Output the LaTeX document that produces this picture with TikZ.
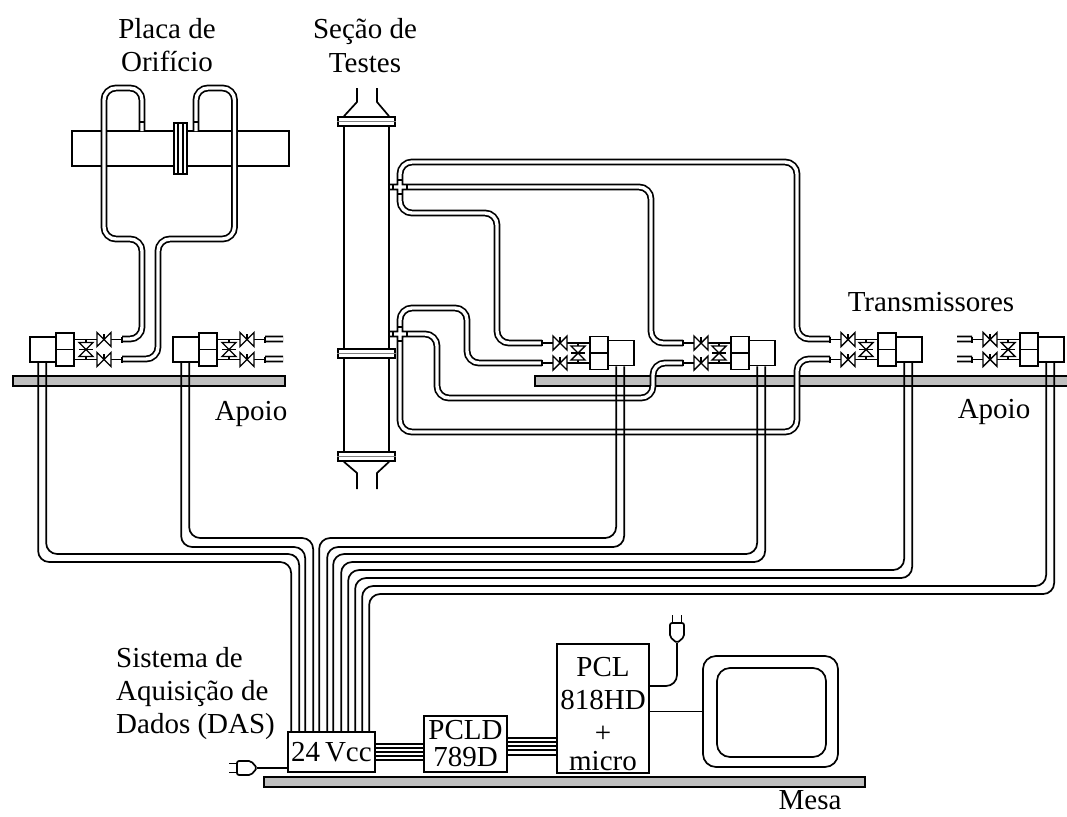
\documentclass[tikz,border=0pt]{standalone}
\usepackage{fontspec}
\setmainfont{Liberation Serif}
\usetikzlibrary{positioning}
\definecolor{bargray}{gray}{0.75}
\tikzset{
  every node/.style={font=\fontsize{29}{33}\selectfont,inner sep=0pt},
  tube/.style={line width=1.7pt},
  bar/.style={draw,line width=1.9pt,fill=bargray,inner sep=0pt},
  wirebox/.style={draw,tube,align=center,inner sep=0pt},
  flange/.style={draw,tube,fill=white,minimum width=57pt,minimum height=9pt},
  thinline/.style={line width=1.4pt},
  valveh/.pic={
    \draw[thinline,fill=white] (-7,-7) -- (-7,7) -- (7,-7) -- (7,7) -- cycle;
    \draw[thinline] (0,0) -- (0,-6);
  },
  valvev/.pic={
    \draw[thinline,fill=white] (-7,-7) -- (7,-7) -- (-7,7) -- (7,7) -- cycle;
    \draw[thinline] (-7,0) -- (7,0);
  },
  transmissor/.pic={
    \draw[tube] (0,-10) -- (-48,-10) (0,10) -- (-48,10);
    \draw[tube] (-48,-13) -- (-48,-7) (-48,7) -- (-48,13);
    \draw[thinline] (-12,-10) -- (-12,10);
    \pic at (-30,-10) {valveh};
    \pic at (-30,10) {valveh};
    \pic at (-12,0) {valvev};
    \node[draw,tube,minimum width=18pt,minimum height=16.5pt] (-up) at (9,-8.25) {};
    \node[draw,tube,minimum width=18pt,minimum height=16.5pt] (-lo) at (9,8.25) {};
    \node[draw,tube,minimum width=26pt,minimum height=25pt] (-big) at (31,0) {};
  },
  plug/.pic={
    \coordinate (-tip) at (0,0);
    \draw[tube,fill=white,rounded corners=2pt] (0,0) -- (-6,-7) -- (-20,-7) -- (-20,7) -- (-6,7) -- cycle;
    \draw[tube] (-20,-4.5) -- (-28,-4.5) (-20,4.5) -- (-28,4.5);
  },
  fitting/.pic={
    \draw[tube] (-7,-3) -- (-7,3) (7,-3) -- (7,3) (-3,-7) -- (3,-7) (-3,7) -- (3,7);
  }
}
\begin{document}
\begin{tikzpicture}[x=1pt,y=-1pt]
\useasboundingbox (0,0) rectangle (1067,816);
\node[bar,minimum width=272pt,minimum height=10pt] (apoioa) at (149,381) {};
\node[bar,minimum width=540pt,minimum height=10pt] (apoiob) at (805,381) {};
\node[bar,minimum width=601pt,minimum height=10pt] (mesa) at (564.5,782) {};
\node[draw,tube,minimum width=217pt,minimum height=35pt] (duto) at (180.5,148.5) {};

\foreach \w/\c in {6.8/black,3.4/white}
  \draw[line width=\w pt,color=\c,rounded corners=12pt]
    (142,131) -- (142,88) -- (104,88) -- (104,239) -- (142,239) -- (142,339) -- (122,339)
    (196,131) -- (196,88) -- (234.5,88) -- (234.5,239) -- (158,239) -- (158,359) -- (122,359)
    (265,339) -- (283,339) (265,359) -- (283,359)
    (400,187) -- (400,162) -- (797,162) -- (797,339) -- (830,339)
    (389,187) -- (651,187) -- (651,343) -- (683,343)
    (400,187) -- (400,213) -- (497,213) -- (497,343) -- (542,343)
    (400,334) -- (400,308) -- (467,308) -- (467,363) -- (542,363)
    (389,334) -- (437,334) -- (437,398) -- (653,398) -- (653,363) -- (683,363)
    (400,334) -- (400,432) -- (797,432) -- (797,359) -- (830,359)
    (957,339) -- (972,339) (957,359) -- (972,359);
\draw[tube] (139,122) -- (145,122) (193,122) -- (199,122);
\pic at (400,187) {fitting};
\pic at (400,334) {fitting};

\node[draw,tube,fill=white,minimum width=13pt,minimum height=51pt] (placa) at (180.5,148.5) {};
\draw[thinline] ([xshift=-2.5pt]placa.north) -- ([xshift=-2.5pt]placa.south)
  ([xshift=2.5pt]placa.north) -- ([xshift=2.5pt]placa.south);

\node[flange] (flt) at (366.5,121.5) {};
\node[flange] (flm) at (366.5,353.5) {};
\node[flange] (flb) at (366.5,456.5) {};
\draw[tube] ([xshift=-22.5pt]flt.south) -- ([xshift=-22.5pt]flm.north)
  ([xshift=-22.5pt]flm.south) -- ([xshift=-22.5pt]flb.north)
  ([xshift=22.5pt]flt.south) -- ([xshift=22.5pt]flm.north)
  ([xshift=22.5pt]flm.south) -- ([xshift=22.5pt]flb.north);
\draw[tube] ([xshift=-22.5pt]flt.north) -- (357,102) -- (357,88)
  ([xshift=22.5pt]flt.north) -- (377,102) -- (377,88)
  ([xshift=-22.5pt]flb.south) -- (357,473) -- (357,489)
  ([xshift=22.5pt]flb.south) -- (377,473) -- (377,489);
\foreach \fl in {flt,flm,flb}
  \draw[line width=1.6pt,color=gray] (\fl.west) -- (\fl.east);

\pic[xscale=-1] (txa) at (74,349.5) {transmissor};
\pic[xscale=-1] (txb) at (217,349.5) {transmissor};
\pic (txc) at (590,353) {transmissor};
\pic (txd) at (731,353) {transmissor};
\pic (txe) at (878,349.5) {transmissor};
\pic (txf) at (1020,349.5) {transmissor};

\node[wirebox,minimum width=87pt,minimum height=40pt] (das) at (331.5,752) {24\,Vcc};
\node[wirebox,minimum width=83pt,minimum height=56pt] (pcld) at (465.5,744) {PCLD\\[-6pt]789D};
\node[wirebox,minimum width=92pt,minimum height=129pt] (pcl) at (603,708.5) {\rule{0pt}{30pt}PCL\\818HD\\+\\[-5pt]micro};
\node[draw,tube,rounded corners=13pt,minimum width=135pt,minimum height=111pt] (mon) at (770.5,711.5) {};
\node[draw,tube,rounded corners=13pt,minimum width=109pt,minimum height=89pt] (tela) at (771.5,712.5) {};

\foreach \tx/\off/\row/\pos in {txa/9/562/4,txa/17/554/12,txb/9/547/18,txb/17/538/26,
    txc/9/538/32,txc/17/547/40,txd/9/554/46,txd/17/562/54,
    txe/9/570/61,txe/17/578/68,txf/9/586/75,txf/17/594/82}
  \draw[tube,rounded corners=11pt] ([xshift=\off pt]\tx-big.south west)
    -- ([xshift=\off pt]\tx-big.south west |- 0,\row)
    -- ([xshift=\pos pt]das.north west |- 0,\row)
    -- ([xshift=\pos pt]das.north west);

\foreach \row in {744,748,752,756,760}
  \draw[tube] (das.east |- 0,\row) -- (pcld.west |- 0,\row);
\foreach \row in {738,742,746,750,755}
  \draw[tube] (pcld.east |- 0,\row) -- (pcl.west |- 0,\row);
\draw[tube] (mon.west) -- (mon.west -| pcl.east);

\pic (pluga) at (257,768) {plug};
\pic[rotate=-90] (plugb) at (677,643) {plug};
\draw[tube] (pluga-tip) -- (pluga-tip -| das.west);
\draw[tube,rounded corners=11pt] (plugb-tip) |- (pcl.east |- 0,686);

\node[align=center,anchor=base] (lbplaca) at (167,71.5) {Placa de\\Orifício};
\node[align=center,anchor=base] (lbsecao) at (365,72) {Seção de\\Testes};
\node[anchor=base] (lbtrans) at (931,311) {Transmissores};
\node[anchor=base] (lbapoioa) at (251,420) {Apoio};
\node[anchor=base] (lbapoiob) at (994,418) {Apoio};
\node[anchor=base] (lbmesa) at (810,809.5) {Mesa};
\node[align=left,anchor=base west] (lbdas) at (116,733) {Sistema de\\Aquisição de\\Dados (DAS)};
\end{tikzpicture}
\end{document}
